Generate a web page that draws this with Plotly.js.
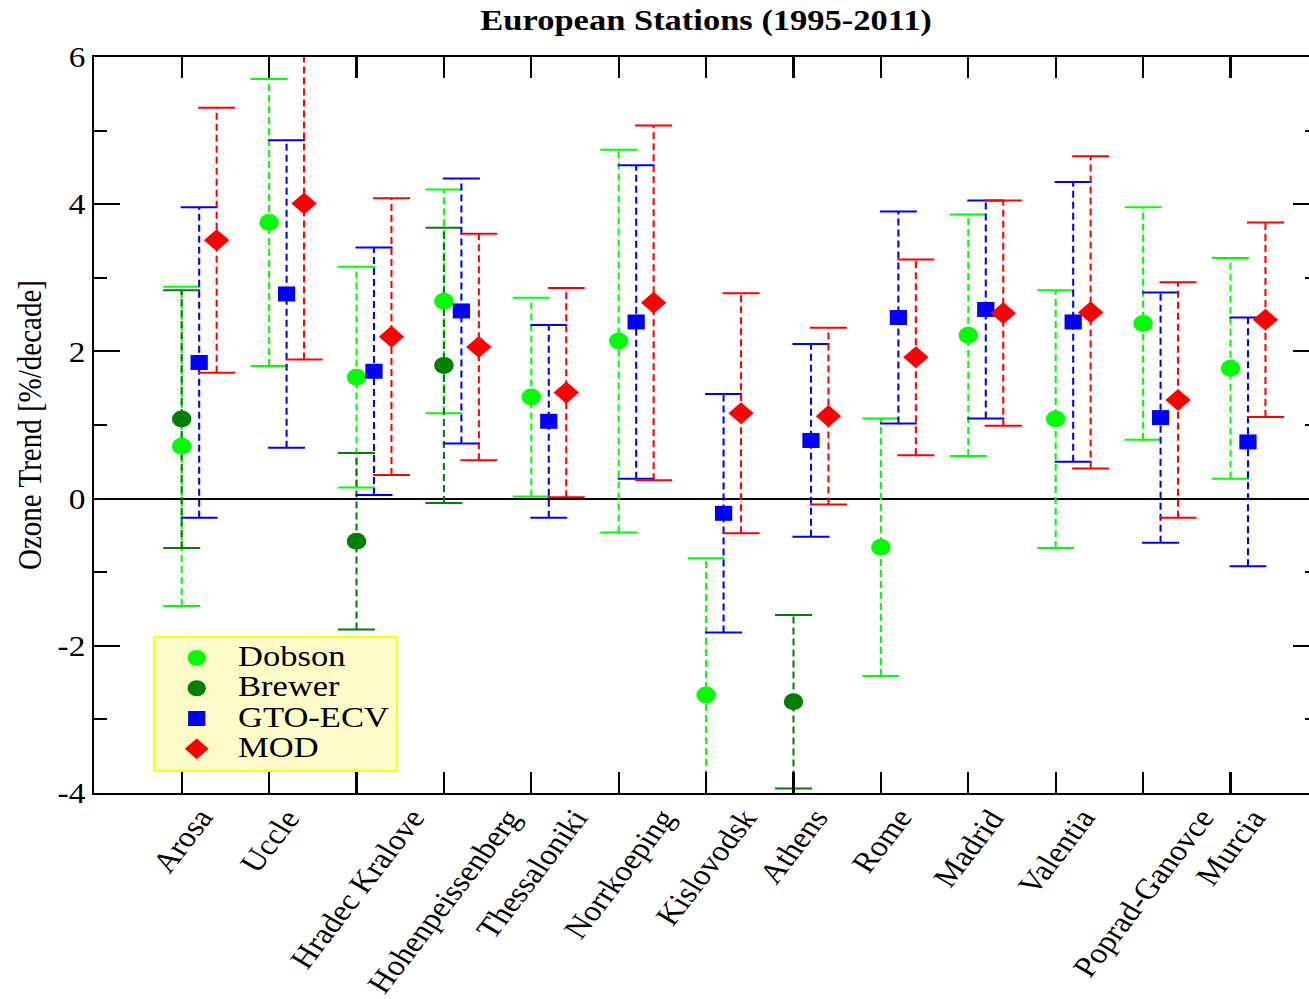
<!DOCTYPE html>
<html>
<head>
<meta charset="utf-8">
<script src="https://cdn.plot.ly/plotly-3.0.1.min.js"></script>
<style>
  html, body { margin: 0; padding: 0; background: #fff; overflow: hidden; width: 1309px; height: 999px; }
  /* the figure is drawn slightly widened, as in the printed version */
  #wrap { transform: scaleX(1.15); transform-origin: 0 0; width: 1160px; height: 999px; }
</style>
</head>
<body>
<div id="wrap"><div id="chart"></div></div>
<script>
// Stations, ordered along the x axis
const stations = ['Arosa', 'Uccle', 'Hradec Kralove', 'Hohenpeissenberg', 'Thessaloniki',
  'Norrkoeping', 'Kislovodsk', 'Athens', 'Rome', 'Madrid', 'Valentia', 'Poprad-Ganovce', 'Murcia'];

// y axis ticks and their labels
const yTicks = [-4, -2, 0, 2, 4, 6];
const yTickLabels = ['-4', '-2', '0', '2', '4', '6'];

// Ozone trends [%/decade] and their uncertainties (half-width of the bar)
const dobsonTrend = [0.71, 3.75, 1.65, 2.68, 1.38, 2.14, -2.67, null, -0.66, 2.22, 1.08, 2.38, 1.77];
const dobsonErr   = [2.17, 1.95, 1.50, 1.52, 1.35, 2.60, 1.86, null, 1.75, 1.64, 1.75, 1.58, 1.50];

const brewerTrend = [1.08, null, -0.58, 1.81, null, null, null, -2.76, null, null, null, null, null];
const brewerErr   = [1.75, null, 1.20, 1.87, null, null, null, 1.18, null, null, null, null, null];

const gtoTrend = [1.85, 2.78, 1.73, 2.55, 1.05, 2.40, -0.20, 0.79, 2.46, 2.57, 2.40, 1.10, 0.77];
const gtoErr   = [2.11, 2.09, 1.68, 1.80, 1.31, 2.13, 1.62, 1.31, 1.44, 1.48, 1.90, 1.70, 1.69];

const modTrend = [3.51, 4.01, 2.20, 2.06, 1.44, 2.66, 1.16, 1.12, 1.92, 2.52, 2.53, 1.34, 2.43];
const modErr   = [1.80, 2.12, 1.88, 1.54, 1.42, 2.41, 1.63, 1.20, 1.33, 1.53, 2.12, 1.60, 1.32];

const FONT = 'Liberation Serif, Times New Roman, serif';

const series = [
  { name: 'Dobson',  vals: dobsonTrend, errs: dobsonErr, shift: 0.0, color: '#00ff00', symbol: 'circle',  size: 17 },
  { name: 'Brewer',  vals: brewerTrend, errs: brewerErr, shift: 0.0, color: '#008000', symbol: 'circle',  size: 17 },
  { name: 'GTO-ECV', vals: gtoTrend,    errs: gtoErr,    shift: 0.2, color: '#0000ff', symbol: 'square',  size: 15 },
  { name: 'MOD',     vals: modTrend,    errs: modErr,    shift: 0.4, color: '#ff0000', symbol: 'diamond', size: 17 }
];

const barTraces = [];
const markerTraces = [];

series.forEach(s => {
  const px = [], py = [];          // points
  const lx = [], ly = [];          // dashed uncertainty lines
  const cx = [], cy = [];          // caps
  s.vals.forEach((v, i) => {
    if (v === null) return;
    const x = i + 1 + s.shift;
    const lo = v - s.errs[i], hi = v + s.errs[i];
    px.push(x); py.push(v);
    lx.push(x, x, null); ly.push(lo, hi, null);
    cx.push(x, x); cy.push(lo, hi);
  });
  barTraces.push({
    x: lx, y: ly, type: 'scatter', mode: 'lines', showlegend: false, hoverinfo: 'skip',
    line: { color: s.color, width: 1.8, dash: '7px,4px' }
  });
  barTraces.push({
    x: cx, y: cy, type: 'scatter', mode: 'markers', showlegend: false, hoverinfo: 'skip',
    marker: { symbol: 'line-ew', size: 23, color: s.color, line: { color: s.color, width: 2 } }
  });
  markerTraces.push({
    x: px, y: py, type: 'scatter', mode: 'markers',
    name: '<span style="font-size:30px">' + s.name + '</span>',
    marker: { symbol: s.symbol, size: s.size, color: s.color, line: { width: 0 } }
  });
});

// Station names: slanted and centred under their tick marks
const stationLabels = stations.map((name, i) => ({
  text: name, x: i + 1, xref: 'x', y: 0, yref: 'paper',
  xanchor: 'center', yanchor: 'top', yshift: -9,
  textangle: -56, showarrow: false, borderpad: 0,
  font: { family: FONT, size: 29, color: '#000000' }
}));

const layout = {
  width: 1160, height: 999,
  margin: { l: 82, r: 14, t: 57, b: 206 },
  paper_bgcolor: '#ffffff', plot_bgcolor: '#ffffff',
  font: { family: FONT, color: '#000000', size: 29 },
  title: {
    text: 'European Stations (1995-2011)',
    font: { family: FONT, size: 30, weight: 'bold', color: '#000000' },
    x: 0.5, xref: 'paper', xanchor: 'center',
    y: 0.980, yref: 'container', yanchor: 'middle'
  },
  xaxis: {
    range: [0, 14],
    tickmode: 'array',
    tickvals: stations.map((_, i) => i + 1),
    ticktext: stations,
    showticklabels: false,
    ticks: 'inside', ticklen: 21, tickwidth: 1.8, tickcolor: '#000000',
    showline: true, linecolor: '#000000', linewidth: 2, mirror: 'ticks',
    showgrid: false, zeroline: false
  },
  yaxis: {
    range: [-4, 6],
    tickmode: 'array', tickvals: yTicks, ticktext: yTickLabels,
    tickfont: { family: FONT, size: 29, color: '#000000' },
    ticks: 'inside', ticklen: 22, tickwidth: 2, tickcolor: '#000000',
    minor: { dtick: 1, tick0: 0, ticks: 'inside', ticklen: 11, tickwidth: 2, tickcolor: '#000000', showgrid: false },
    showline: true, linecolor: '#000000', linewidth: 2, mirror: 'ticks',
    showgrid: false,
    zeroline: true, zerolinecolor: '#000000', zerolinewidth: 2,
    title: { text: 'Ozone Trend [%/decade]', font: { family: FONT, size: 29, color: '#000000' }, standoff: 5 }
  },
  legend: {
    x: 0.048, y: 0.2136, xanchor: 'left', yanchor: 'top',
    bgcolor: '#fdfcc8', bordercolor: '#ffff00', borderwidth: 2,
    font: { family: FONT, size: 21, color: '#000000' },
    itemwidth: 62, traceorder: 'normal'
  },
  annotations: stationLabels,
  showlegend: true
};

Plotly.newPlot('chart', barTraces.concat(markerTraces), layout, { displayModeBar: false, responsive: false, staticPlot: true });
</script>
</body>
</html>
